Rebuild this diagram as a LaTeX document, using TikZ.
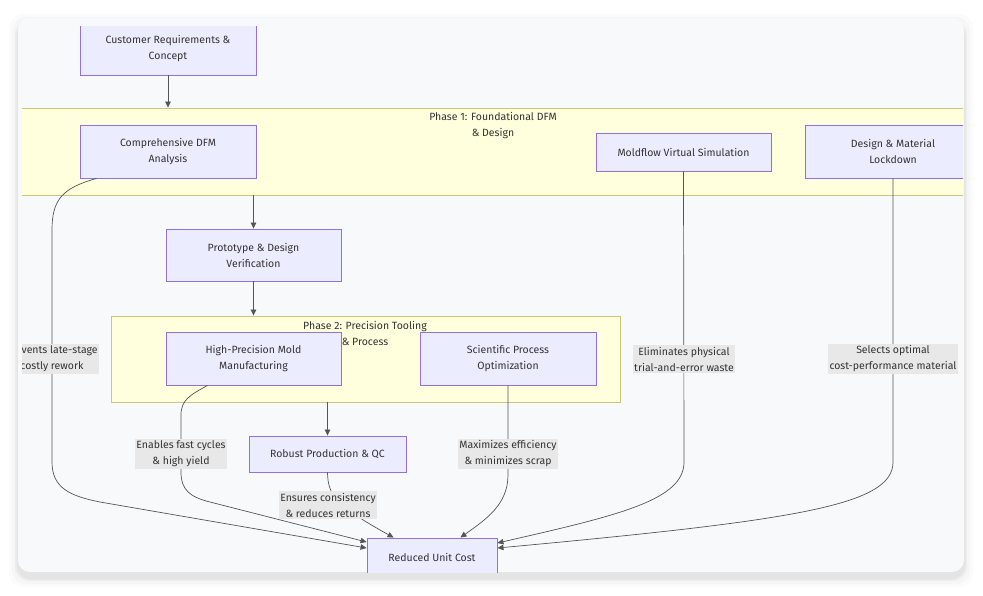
\documentclass[tikz,border=0pt]{standalone}
\usepackage{fontspec}
\setmainfont{Fira Sans}
\usepackage{tikz}
\usetikzlibrary{arrows.meta,calc,positioning}
\definecolor{nodefill}{HTML}{ECECFF}
\definecolor{nodeline}{HTML}{9370DB}
\definecolor{phasefill}{HTML}{FFFFDE}
\definecolor{phaseline}{HTML}{C8C87A}
\definecolor{linegray}{HTML}{555555}
\definecolor{textgray}{HTML}{333333}
\definecolor{labelbg}{HTML}{E8E8E8}
\definecolor{cardbg}{HTML}{F8F9FB}
\newcommand{\mmfont}{\fontsize{10.5}{16}\selectfont}

\begin{document}
\begin{tikzpicture}[
  x=1pt,y=-1pt,
  box/.style={rectangle,draw=nodeline,fill=nodefill,line width=0.9pt,align=center,font=\mmfont,text=textgray,inner sep=0pt},
  phase/.style={rectangle,draw=phaseline,fill=phasefill,line width=0.9pt,inner sep=0pt},
  title/.style={align=center,font=\mmfont,text=textgray,inner sep=0pt},
  lbl/.style={fill=labelbg,align=center,font=\mmfont,text=textgray,inner sep=1.5pt},
  arrow/.style={-{Triangle[length=6pt,width=5.5pt]},line width=0.7pt,draw=linegray},
]
\useasboundingbox (0,0) rectangle (983,595);
\fill[white] (0,0) rectangle (983,595);
\foreach \s/\o in {9/0.015,6/0.02,3/0.03,1.5/0.04}
  \fill[black,opacity=\o,rounded corners=14pt] (18-\s,18-\s+5) rectangle (964+\s,572+\s+6);
\fill[cardbg,rounded corners=12pt] (18,18) rectangle (964,572);

\begin{scope}
\clip (22,26) rectangle (963,572);

\node[phase,minimum width=1000,minimum height=87] (p1) at (493,151.5) {};
\node[title] (p1t) at (493,126) {Phase 1: Foundational DFM\\\& Design};
\node[phase,minimum width=509,minimum height=86] (p2) at (365.5,359) {};
\node[title] (p2t) at (365,333) {Phase 2: Precision Tooling\\\& Process};

\node[box,minimum width=176,minimum height=53] (cust) at (168,48.5) {Customer Requirements \&\\Concept};
\node[box,minimum width=176,minimum height=53] (dfm) at (168,151.5) {Comprehensive DFM\\Analysis};
\node[box,minimum width=175,minimum height=38] (sim) at (683.5,152) {Moldflow Virtual Simulation};
\node[box,minimum width=176,minimum height=53] (lock) at (893,151.5) {Design \& Material\\Lockdown};
\node[box,minimum width=175,minimum height=52] (proto) at (253.5,255) {Prototype \& Design\\Verification};
\node[box,minimum width=175,minimum height=53] (mold) at (253.5,358.5) {High-Precision Mold\\Manufacturing};
\node[box,minimum width=176,minimum height=53] (sci) at (508,358.5) {Scientific Process\\Optimization};
\node[box,minimum width=157,minimum height=36] (qc) at (327.5,454) {Robust Production \& QC};
\node[box,minimum width=130,minimum height=38] (cost) at (432,557) {Reduced Unit Cost};

\draw[arrow] (cust.south) -- (cust.south |- p1.north);
\draw[arrow] (proto.north |- p1.south) -- (proto.north);
\draw[arrow] (proto.south) -- (proto.south |- p2.north);
\draw[arrow] (qc.north |- p2.south) -- (qc.north);

\draw[arrow] ($(dfm.south west)+(17,0)$) .. controls (62,188) and (52,200) .. (52,230)
  -- (52,462) .. controls (52,488) and (70,496) .. (100,502) -- ($(cost.west)+(0,-9)$);
\draw[arrow] ($(mold.south west)+(42,0)$) .. controls (190,395) and (181,400) .. (181,415)
  -- (181,472) .. controls (181,490) and (190,497) .. (210,502) -- ($(cost.west)+(0,-15)$);
\draw[arrow] (qc.south) .. controls (328,495) and (335,505) .. ($(cost.north west)+(27,0)$);
\draw[arrow] (sci.south) -- (508,475) .. controls (508,505) and (485,520) .. ($(cost.north east)+(-37,0)$);
\draw[arrow] (sim.south) -- (684,462) .. controls (684,500) and (620,515) .. ($(cost.east)+(0,-14)$);
\draw[arrow] (lock.south) -- (893,462) .. controls (893,505) and (800,520) .. ($(cost.east)+(0,-9)$);

\node[lbl] (l1) at (52,359) {Prevents late-stage\\costly rework};
\node[lbl] (l2) at (181,454) {Enables fast cycles\\\& high yield};
\node[lbl] (l3) at (328,505) {Ensures consistency\\\& reduces returns};
\node[lbl] (l4) at (508,454) {Maximizes efficiency\\\& minimizes scrap};
\node[lbl] (l5) at (684,359) {Eliminates physical\\trial-and-error waste};
\node[lbl] (l6) at (893,359) {Selects optimal\\cost-performance material};
\end{scope}
\end{tikzpicture}
\end{document}
